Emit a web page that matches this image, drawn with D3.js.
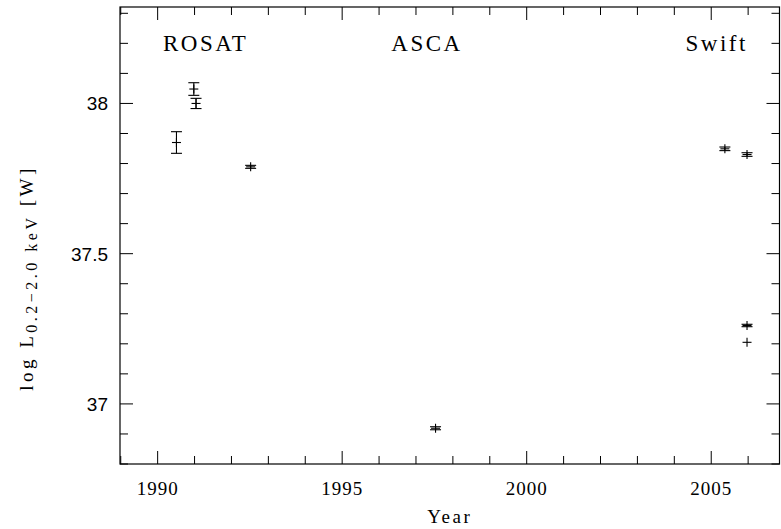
<!DOCTYPE html>
<html><head><meta charset="utf-8">
<script src="https://cdn.jsdelivr.net/npm/d3@7"></script>
<style>body{margin:0;background:#fff}</style>
</head><body>
<svg id="c" width="781" height="529"></svg>
<script>
// Data
const years  = [1990.51, 1990.98, 1991.04, 1992.52, 1997.53, 2005.37, 2005.97, 2005.97, 2005.97];
const values = [37.87, 38.048, 38.0, 37.789, 36.919, 37.849, 37.83, 37.261, 37.205];
const errors = [0.036, 0.021, 0.017, 0.005, 0.005, 0.006, 0.006, 0.004, 0];
const missions = ["ROSAT", "ASCA", "Swift"];
const missionYears = [1991.3, 1997.3, 2005.15];
const xMajor = [1990, 1995, 2000, 2005];
const yMajor = [37, 37.5, 38];

const svg = d3.select("#c");
const L = 120, R = 779.5, T = 7, B = 464;
const x = d3.scaleLinear().domain([1988.98, 2006.85]).range([L, R]);
const y = d3.scaleLinear().domain([36.8, 38.321]).range([B, T]);

const serif = "'Liberation Serif','DejaVu Serif',serif";
const sans = "'Liberation Sans','DejaVu Sans',sans-serif";

// frame
svg.append("rect").attr("x", L).attr("y", T).attr("width", R - L).attr("height", B - T)
  .attr("fill", "none").attr("stroke", "#000").attr("stroke-width", 1.2);

// x ticks: bottom and top
const xMinor = d3.range(1989, 2007, 1);
const gx = svg.append("g").attr("stroke", "#000").attr("stroke-width", 1);
xMinor.forEach(v => {
  const len = (v % 5 === 0) ? 13 : 8;
  gx.append("line").attr("x1", x(v)).attr("x2", x(v)).attr("y1", B).attr("y2", B - len);
  gx.append("line").attr("x1", x(v)).attr("x2", x(v)).attr("y1", T).attr("y2", T + len);
});
// y ticks: left and right
const yMinor = d3.range(36.8, 38.35, 0.1).map(v => Math.round(v * 10) / 10);
const gy = svg.append("g").attr("stroke", "#000").attr("stroke-width", 1);
yMinor.forEach(v => {
  const major = Math.abs(v * 2 - Math.round(v * 2)) < 1e-6;
  const len = major ? 13 : 8;
  gy.append("line").attr("x1", L).attr("x2", L + len).attr("y1", y(v)).attr("y2", y(v));
  gy.append("line").attr("x1", R).attr("x2", R - len).attr("y1", y(v)).attr("y2", y(v));
});

// tick labels
svg.append("g").selectAll("text").data(xMajor).join("text")
  .attr("x", d => x(d)).attr("y", 495).attr("text-anchor", "middle")
  .attr("font-family", serif).attr("font-size", 19).attr("letter-spacing", 1).text(d => d);
svg.append("g").selectAll("text").data(yMajor).join("text")
  .attr("x", 108).attr("y", d => y(d) + 7).attr("text-anchor", "end")
  .attr("font-family", sans).attr("font-size", 19).text(d => d);

// axis titles
svg.append("text").attr("x", (L + R) / 2).attr("y", 523).attr("text-anchor", "middle")
  .attr("font-family", serif).attr("font-size", 19).attr("letter-spacing", 2.5).text("Year");
const yl = svg.append("text").attr("transform", "translate(33,278) rotate(-90)")
  .attr("text-anchor", "middle").attr("font-family", serif).attr("font-size", 19).attr("letter-spacing", 3.5);
yl.append("tspan").text("log L");
yl.append("tspan").attr("dy", 4).attr("font-size", 16).text("0.2\u22122.0 keV");
yl.append("tspan").attr("dy", -4).text(" [W]");

// mission labels
svg.append("g").selectAll("text").data(missions).join("text")
  .attr("x", (d, i) => x(missionYears[i])).attr("y", 51).attr("text-anchor", "middle")
  .attr("font-family", serif).attr("font-weight", "normal").attr("font-size", 23)
  .attr("letter-spacing", 2.5).text(d => d);

// data: error bars + plus markers
const g = svg.append("g").attr("stroke", "#000").attr("stroke-width", 1.1).attr("fill", "none");
years.forEach((yr, i) => {
  const cx = x(yr), cy = y(values[i]);
  const e = errors[i];
  if (e > 0) {
    const y0 = y(values[i] - e), y1 = y(values[i] + e);
    g.append("line").attr("x1", cx).attr("x2", cx).attr("y1", y0).attr("y2", y1);
    g.append("line").attr("x1", cx - 5.5).attr("x2", cx + 5.5).attr("y1", y0).attr("y2", y0);
    g.append("line").attr("x1", cx - 5.5).attr("x2", cx + 5.5).attr("y1", y1).attr("y2", y1);
  }
  g.append("line").attr("x1", cx - 4.5).attr("x2", cx + 4.5).attr("y1", cy).attr("y2", cy);
  g.append("line").attr("x1", cx).attr("x2", cx).attr("y1", cy - 4.5).attr("y2", cy + 4.5);
});
</script>
</body></html>
